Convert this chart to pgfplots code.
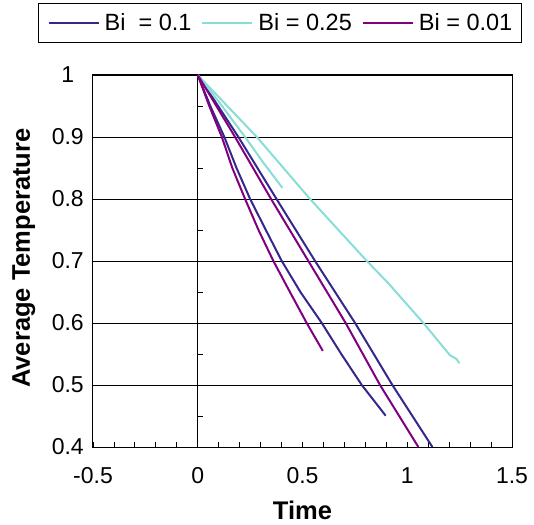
\documentclass[border=0pt]{standalone}
\usepackage{pgfplots}
\pgfplotsset{compat=1.18}
\usepackage{fontspec}
\setmainfont{Liberation Sans}

\definecolor{biblue}{RGB}{52,40,140}
\definecolor{bicyan}{RGB}{135,222,214}
\definecolor{bipurple}{RGB}{128,0,128}

\begin{document}
\begin{tikzpicture}
\begin{axis}[
    scale only axis,
    width=419pt, height=372pt,
    xmin=-0.5, xmax=1.5,
    ymin=0.4, ymax=1,
    xtick={-0.5,0,0.5,1,1.5},
    xticklabels={-0.5,0,0.5,1,1.5},
    minor x tick num=4,
    ytick={0.4,0.5,0.6,0.7,0.8,0.9,1},
    yticklabels={0.4,0.5,0.6,0.7,0.8,0.9,1},
    ymajorgrids=true,
    grid style={black, line width=0.8pt},
    xtick pos=bottom, ytick pos=left,
    tick align=inside,
    major tick length=5pt, minor tick length=5pt,
    xtick style={black, line width=0.8pt},
    ytick style={draw=none},
    axis line style={black, line width=1pt},
    tick label style={font=\fontsize{23}{25}\selectfont},
    yticklabel style={anchor=east, text width=34pt, align=center, inner xsep=8pt},
    xticklabel style={anchor=north, inner ysep=20pt},
    xlabel={Time},
    ylabel={Average Temperature},
    label style={font=\fontsize{25.5}{27}\selectfont\bfseries},
    xlabel style={at={(axis description cs:0.5,0)}, anchor=base, yshift=-72pt},
    ylabel style={at={(axis description cs:-0.1506,0.508)}, anchor=base},
    legend columns=3,
    legend image code/.code={\draw[#1] (0pt,0pt) -- (50pt,0pt);},
    legend style={
        at={(axis description cs:-0.131,1.1935)}, anchor=north west,
        draw=black, line width=1pt,
        font=\fontsize{23.5}{25}\selectfont,
        inner xsep=9pt, inner ysep=8pt,
        nodes={inner xsep=0pt, inner ysep=2pt},
        column sep=5pt,
        /tikz/every even column/.append style={column sep=10pt},
    },
]
\draw[black, line width=1.2pt] (axis cs:0,0.4) -- (axis cs:0,1);
\pgfplotsinvokeforeach{0.45,0.55,0.65,0.75,0.85,0.95}{
    \draw[black, line width=0.8pt] (axis cs:0,#1) -- ++(5pt,0pt);
}

% Bi = 0.1
\addplot[biblue, line width=2pt] coordinates {
    (0,1) (0.194,0.9) (0.376,0.8) (0.56,0.7) (0.751,0.6) (0.929,0.5) (1.12,0.4)
};
\addlegendentry{Bi~~= 0.1}
\addplot[biblue, line width=2pt, forget plot] coordinates {
    (0,1) (0.06,0.95) (0.127,0.9) (0.185,0.85) (0.25,0.8) (0.325,0.75)
    (0.401,0.7) (0.49,0.65) (0.592,0.6) (0.685,0.55) (0.783,0.5) (0.897,0.4505)
};

% Bi = 0.25
\addplot[bicyan, line width=2pt] coordinates {
    (0,1) (0.282,0.9) (0.536,0.8) (0.807,0.7) (0.91,0.664) (1.077,0.6)
    (1.204,0.548) (1.235,0.542) (1.249,0.535)
};
\addlegendentry{Bi = 0.25}
\addplot[bicyan, line width=2pt, forget plot] coordinates {
    (0,1) (0.1,0.957) (0.226,0.9) (0.31,0.86) (0.404,0.818)
};

% Bi = 0.01
\addplot[bipurple, line width=2pt] coordinates {
    (0,1) (0.178,0.9) (0.35,0.8) (0.528,0.7) (0.706,0.6) (0.87,0.5) (1.053,0.4)
};
\addlegendentry{Bi = 0.01}
\addplot[bipurple, line width=2pt, forget plot] coordinates {
    (0,1) (0.055,0.95) (0.115,0.9) (0.165,0.85) (0.226,0.8) (0.29,0.75)
    (0.361,0.7) (0.44,0.65) (0.52,0.6) (0.597,0.555)
};
\end{axis}
\pgfresetboundingbox
\path (-93pt,-77pt) rectangle (441pt,447pt);
\end{tikzpicture}
\end{document}
